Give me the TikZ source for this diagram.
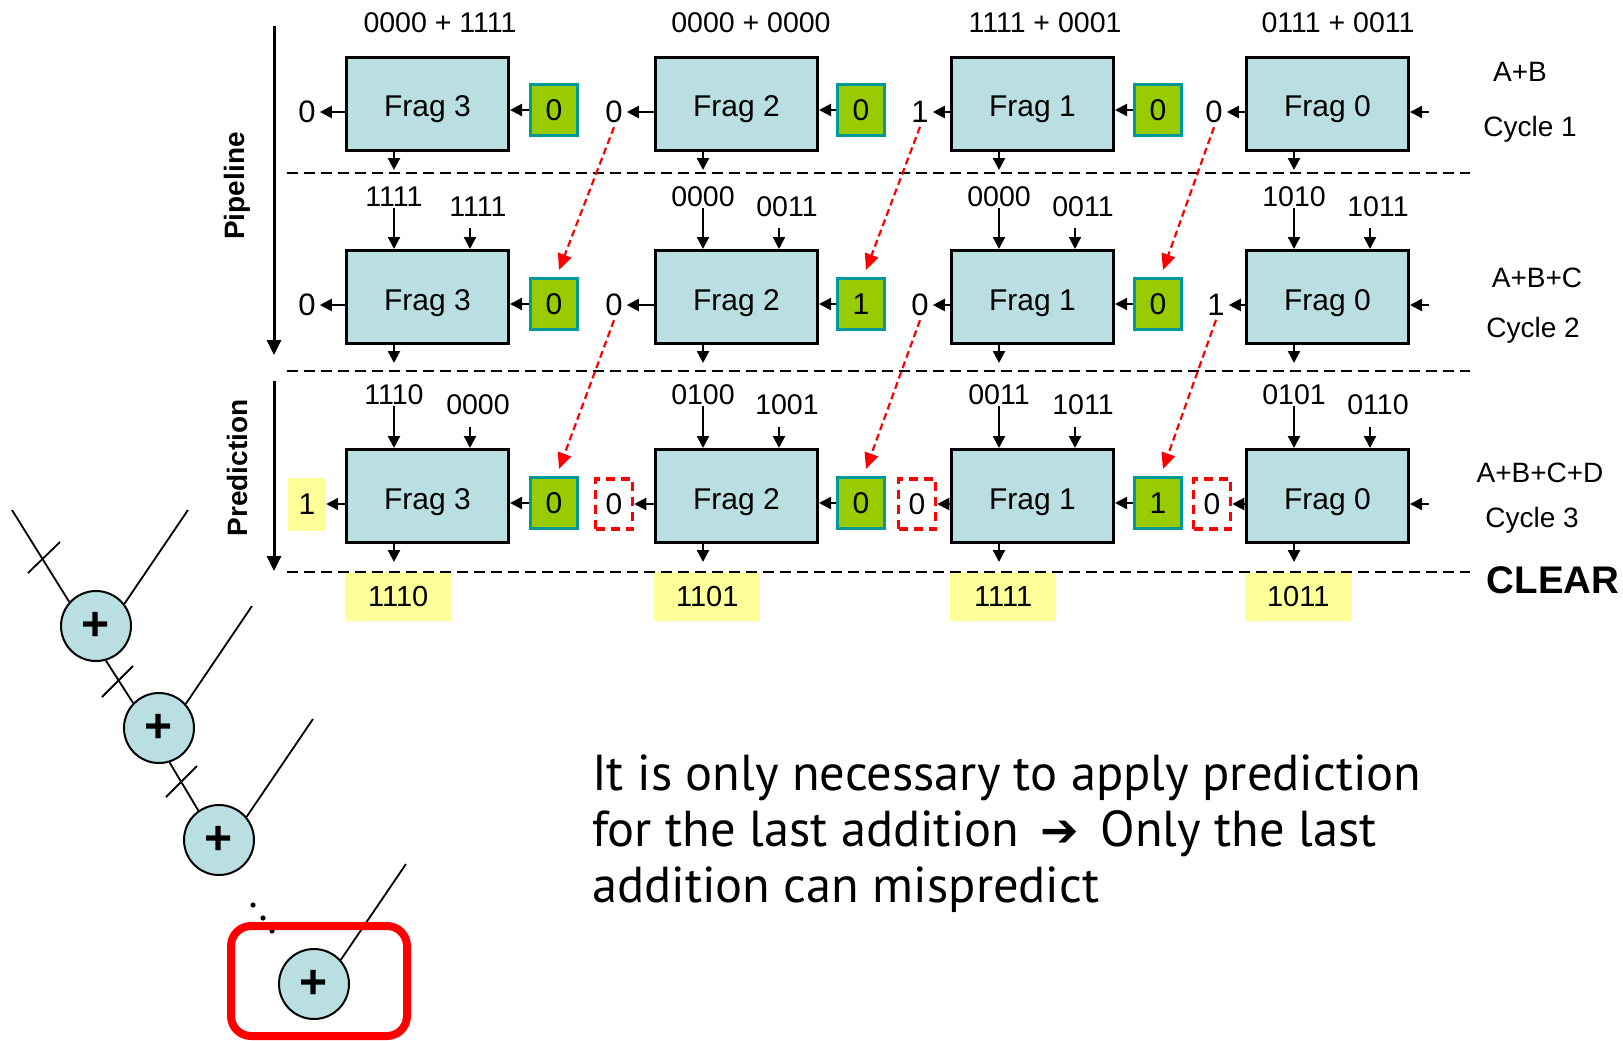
\documentclass[tikz,border=0pt]{standalone}
\usepackage{fontspec}
\setmainfont{Liberation Sans}
\newfontfamily\ptsans{PT Sans}
\newfontfamily\dejavu{DejaVu Sans}
\usetikzlibrary{arrows.meta}
\definecolor{fragblue}{RGB}{185,223,227}
\definecolor{lgreen}{RGB}{153,204,0}
\definecolor{tealb}{RGB}{0,153,153}
\definecolor{lyellow}{RGB}{255,255,153}
\definecolor{bred}{RGB}{255,0,0}
\newcommand\fsz[1]{\fontsize{#1}{#1}\selectfont}
\begin{document}
\begin{tikzpicture}[x=1pt,y=-1pt,
  frag/.style={draw, line width=3pt, fill=fragblue, minimum width=162pt, minimum height=93pt, inner sep=0pt, anchor=north west, font=\fsz{30}, text height=26pt, text depth=0pt},
  gbox/.style={draw=tealb, line width=3pt, fill=lgreen, minimum width=47pt, minimum height=51pt, inner sep=0pt, font=\fsz{30}},
  lab/.style={font=\fsz{28.5}, inner sep=1pt},
  olab/.style={font=\fsz{31}, inner sep=4pt},
  ybox/.style={fill=lyellow, inner sep=0pt, font=\fsz{29}},
  rbox/.style={draw=bred, line width=3.5pt, dash pattern=on 9pt off 6pt, minimum width=37pt, minimum height=50pt, inner sep=0pt, font=\fsz{30}},
  arr/.style={line width=2.2pt, -{Triangle[length=12pt,width=12pt]}},
  axarr/.style={line width=3pt, -{Triangle[length=15pt,width=14pt]}},
  rarr/.style={bred, line width=2.2pt, dash pattern=on 7pt off 4pt, -{Triangle[length=16pt,width=14pt]}},
  sep/.style={line width=2.5pt, dash pattern=on 11pt off 6pt},
  adder/.style={circle, draw, line width=2pt, fill=fragblue, minimum size=70pt, inner sep=0pt, font=\bfseries\fsz{48}},
  thin/.style={line width=1.8pt},
  side/.style={font=\fsz{28}, inner sep=0pt}
]
\useasboundingbox (0,0) rectangle (1623,1041);

% ---------- frag boxes and down arrows
\foreach \cn/\xx in {3/345,2/654,1/950,0/1245}{
  \foreach \rn/\yy in {1/56,2/249,3/448}{
    \node[frag] (f\cn r\rn) at (\xx,\yy) {Frag \cn};
    \coordinate (d\cn r\rn) at ({\xx+49},{\yy+114});
    \draw[arr] (f\cn r\rn.south -| d\cn r\rn) -- (d\cn r\rn);
    \coordinate (rin\cn r\rn) at ({\xx+184},{\yy+56});
  }
}

% ---------- green carry boxes
\node[gbox] (g3r1) at (554,110) {0};
\node[gbox] (g2r1) at (861,110) {0};
\node[gbox] (g1r1) at (1158,110) {0};
\node[gbox] (g3r2) at (554,304) {0};
\node[gbox] (g2r2) at (861,304) {1};
\node[gbox] (g1r2) at (1158,304) {0};
\node[gbox] (g3r3) at (554,503) {0};
\node[gbox] (g2r3) at (861,503) {0};
\node[gbox] (g1r3) at (1158,503) {1};
\foreach \cn in {3,2,1}{
  \foreach \rn in {1,2,3}{
    \draw[arr] (g\cn r\rn.west) -- (g\cn r\rn.west -| f\cn r\rn.east);
  }
}

% ---------- right-hand inputs into Frag 0
\foreach \rn in {1,2,3}{
  \draw[arr] (rin0r\rn) -- (rin0r\rn -| f0r\rn.east);
}

% ---------- carry outputs
\node[olab] (o3r1) at (307,112) {0};
\node[olab] (o2r1) at (614,112) {0};
\node[olab] (o1r1) at (920,112) {1};
\node[olab] (o0r1) at (1214,112) {0};
\node[olab] (o3r2) at (307,305) {0};
\node[olab] (o2r2) at (614,305) {0};
\node[olab] (o1r2) at (920,305) {0};
\node[olab] (o0r2) at (1216,305) {1};
\node[ybox, minimum width=38pt, minimum height=53pt, font=\fsz{30}] (o3r3) at (307,504) {1};
\node[rbox] (o2r3) at (614,504) {0};
\node[rbox] (o1r3) at (917,504) {0};
\node[rbox] (o0r3) at (1212,504) {0};
\foreach \cn in {3,2,1,0}{
  \foreach \rn in {1,2,3}{
    \draw[arr] (o\cn r\rn.east -| f\cn r\rn.west) -- (o\cn r\rn.east);
  }
}

% ---------- operand labels, row 1
\node[lab] (t3) at (440,23) {0000 + 1111};
\node[lab] (t2) at (751,23) {0000 + 0000};
\node[lab] (t1) at (1045,23) {1111 + 0001};
\node[lab] (t0) at (1338,23) {0111 + 0011};

% ---------- operand labels and input arrows, rows 2 and 3
\foreach \cn/\xx/\la/\ra/\lb/\rb in {3/345/1111/1111/1110/0000, 2/654/0000/0011/0100/1001, 1/950/0000/0011/0011/1011, 0/1245/1010/1011/0101/0110}{
  \node[lab] (il\cn r2) at ({\xx+49},197) {\la};
  \node[lab] (ir\cn r2) at ({\xx+133},207) {\ra};
  \node[lab] (il\cn r3) at ({\xx+49},395) {\lb};
  \node[lab] (ir\cn r3) at ({\xx+133},405) {\rb};
  \coordinate (irs\cn r2) at ({\xx+125},228);
  \coordinate (irs\cn r3) at ({\xx+125},427);
  \foreach \rn in {2,3}{
    \draw[arr] (il\cn r\rn.south) -- (il\cn r\rn.south |- f\cn r\rn.north);
    \draw[arr] (irs\cn r\rn) -- (irs\cn r\rn |- f\cn r\rn.north);
  }
}

% ---------- result boxes
\node[ybox, anchor=north west, minimum width=106pt, minimum height=49pt] (res3) at (345,572) {1110\hspace{12pt}};
\node[ybox, anchor=north west, minimum width=106pt, minimum height=49pt] (res2) at (654,572) {1101\hspace{12pt}};
\node[ybox, anchor=north west, minimum width=106pt, minimum height=49pt] (res1) at (950,572) {1111\hspace{12pt}};
\node[ybox, anchor=north west, minimum width=106pt, minimum height=49pt] (res0) at (1245,572) {1011\hspace{12pt}};

% ---------- stage separators
\coordinate (s1a) at (287,173); \coordinate (s1b) at (1470,173);
\coordinate (s2a) at (287,371); \coordinate (s2b) at (1470,371);
\coordinate (s3a) at (287,572); \coordinate (s3b) at (1470,572);
\draw[sep] (s1a) -- (s1b);
\draw[sep] (s2a) -- (s2b);
\draw[sep] (s3a) -- (s3b);

% ---------- predicted carries (red dashed)
\draw[rarr] (o2r1.south) -- ([xshift=5pt,yshift=7pt]g3r2.north);
\draw[rarr] (o1r1.south) -- ([xshift=5pt,yshift=7pt]g2r2.north);
\draw[rarr] (o0r1.south) -- ([xshift=5pt,yshift=7pt]g1r2.north);
\draw[rarr] (o2r2.south) -- ([xshift=5pt,yshift=7pt]g3r3.north);
\draw[rarr] (o1r2.south) -- ([xshift=5pt,yshift=7pt]g2r3.north);
\draw[rarr] (o0r2.south) -- ([xshift=5pt,yshift=7pt]g1r3.north);

% ---------- axes
\coordinate (ax1a) at (274,26); \coordinate (ax1b) at (274,355);
\coordinate (ax2a) at (274,381); \coordinate (ax2b) at (274,571);
\draw[axarr] (ax1a) -- (ax1b);
\draw[axarr] (ax2a) -- (ax2b);
\node[rotate=90, font=\bfseries\fsz{28}] (pipe) at (237,186) {Pipeline};
\node[rotate=90, font=\bfseries\fsz{28}] (pred) at (237,468) {Prediction};

% ---------- right labels
\node[side] (ab) at (1520,72) {A+B};
\node[side] (cy1) at (1530,129) {Cycle 1};
\node[side] (abc) at (1537,278) {A+B+C};
\node[side] (cy2) at (1533,330) {Cycle 2};
\node[side] (abcd) at (1540,473) {A+B+C+D};
\node[side] (cy3) at (1532,520) {Cycle 3};
\node[font=\bfseries\fsz{38.5}, inner sep=0pt] (clr) at (1553,580) {CLEAR};

% ---------- adder chain
\node[adder] (c1) at (96,626) {\raisebox{-4pt}{+}};
\node[adder] (c2) at (159,728) {\raisebox{-4pt}{+}};
\node[adder] (c3) at (219,840) {\raisebox{-4pt}{+}};
\node[adder] (c4) at (314,984) {\raisebox{-4pt}{+}};
\coordinate (c1l) at (12,510);
\coordinate (c1r) at (188,510);
\coordinate (c2r) at (252,606);
\coordinate (c3r) at (313,719);
\coordinate (c4r) at (406,864);
\draw[thin] (c1l) -- (c1.138);
\draw[thin] (c1r) -- (c1.38);
\draw[thin] (c1.-74) -- (c2.136);
\draw[thin] (c2r) -- (c2.42);
\draw[thin] (c2.-73) -- (c3.125);
\draw[thin] (c3r) -- (c3.40);
\draw[thin] (c4r) -- (c4.42);
% register ticks
\draw[thin] (28,573) -- (60,542);
\draw[thin] (102,697) -- (133,666);
\draw[thin] (166,797) -- (197,766);
% dots
\fill (253,905) circle (2.6pt);
\fill (263,918) circle (2.6pt);
\fill (272,931) circle (2.6pt);
% highlight
\draw[bred, line width=8pt, rounded corners=20pt] (231,926) rectangle (407,1036);

% ---------- message
\node[anchor=base west, inner sep=0pt, font=\ptsans\fsz{50.5}] (msg1) at (592,790) {It is only necessary to apply prediction};
\node[anchor=base west, inner sep=0pt, font=\ptsans\fsz{50.5}] (msg2) at (592,846) {for the last addition\hspace{8pt} {\dejavu\bfseries\fsz{46}➔}\hspace{8pt} Only the last};
\node[anchor=base west, inner sep=0pt, font=\ptsans\fsz{50.5}] (msg3) at (592,902) {addition can mispredict};
\end{tikzpicture}
\end{document}
